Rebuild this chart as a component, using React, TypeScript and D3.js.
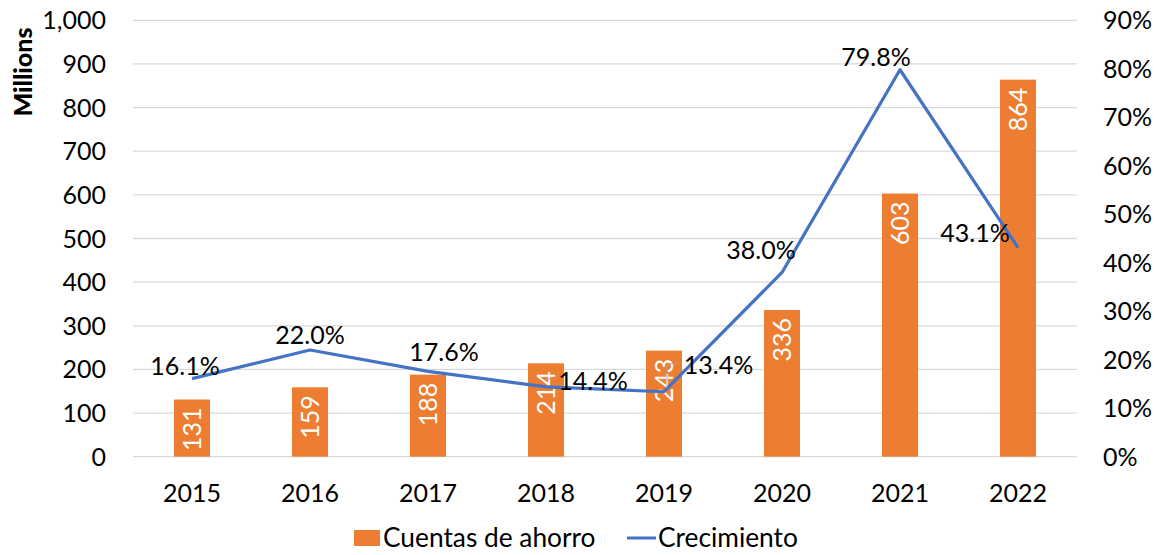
import React from "react";
import * as d3 from "d3";

const years = ["2015", "2016", "2017", "2018", "2019", "2020", "2021", "2022"];
const cuentas = [131, 159, 188, 214, 243, 336, 603, 864];
const crecimiento = [0.161, 0.22, 0.176, 0.144, 0.134, 0.38, 0.798, 0.431];
const leftTicks = [0, 100, 200, 300, 400, 500, 600, 700, 800, 900, 1000];
const rightTicks = [0, 0.1, 0.2, 0.3, 0.4, 0.5, 0.6, 0.7, 0.8, 0.9];
// label offsets (dx, dy baseline) relative to the line points
const labelOffsets: [number, number][] = [
  [-7, -3.6], [0, -6], [16, -10.7], [47, 3], [54.5, -17.7], [-21, -13], [-24, -3.7], [-43, -6],
];

const W = 1160, H = 555;
const FONT = "Lato, 'Noto Sans', sans-serif";
const ORANGE = "#ED7D31";
const BLUE = "#4472C4";

export default function App() {
  const x = d3.scaleBand<string>().domain(years).range([133, 1077]).paddingInner(0.695).paddingOuter(0.3475);
  const yL = d3.scaleLinear().domain([0, 1000]).range([456.7, 20.3]);
  const yR = d3.scaleLinear().domain([0, 0.9]).range([456.7, 20.3]);
  const cx = (y: string) => (x(y) as number) + x.bandwidth() / 2;
  const line = d3.line<number>().x((_, i) => cx(years[i])).y((d) => yR(d));
  const fmtL = d3.format(",");
  const fmtR = d3.format(".0%");
  const fmtP = d3.format(".1%");
  const fs = 25;

  return (
    <svg width={W} height={H} style={{ position: "absolute", left: 0, top: 0, background: "#fff" }} fontFamily={FONT}>
      {leftTicks.map((t) => (
        <line key={"g" + t} x1={133} x2={1077} y1={yL(t)} y2={yL(t)} stroke="#D9D9D9" strokeWidth={1.3} />
      ))}
      {leftTicks.map((t) => (
        <text key={"l" + t} x={106} y={yL(t)} dy="0.36em" textAnchor="end" fontSize={fs} fill="#000">
          {fmtL(t)}
        </text>
      ))}
      {rightTicks.map((t) => (
        <text key={"r" + t} x={1103} y={yR(t)} dy="0.36em" textAnchor="start" fontSize={fs} fill="#000">
          {fmtR(t)}
        </text>
      ))}
      <text transform={`translate(32,72) rotate(-90)`} textAnchor="middle" fontSize={25} fontWeight="900" fill="#000">
        Millions
      </text>
      {years.map((yr, i) => (
        <rect key={"b" + yr} x={x(yr)} y={yL(cuentas[i])} width={x.bandwidth()} height={yL(0) - yL(cuentas[i])} fill={ORANGE} />
      ))}
      {years.map((yr, i) => (
        <text
          key={"bl" + yr}
          transform={`translate(${cx(yr)},${yL(cuentas[i]) + 8}) rotate(-90)`}
          textAnchor="end"
          dy="0.36em"
          fontSize={fs}
          fill="#fff"
        >
          {cuentas[i]}
        </text>
      ))}
      {years.map((yr) => (
        <text key={"x" + yr} x={cx(yr)} y={502} textAnchor="middle" fontSize={fs} fill="#000">
          {yr}
        </text>
      ))}
      <path d={line(crecimiento) as string} fill="none" stroke={BLUE} strokeWidth={3.2} strokeLinejoin="round" />
      {/* leader lines */}
      <line x1={cx(years[3])} x2={cx(years[3]) + 10} y1={yR(crecimiento[3]) - 8} y2={yR(crecimiento[3]) - 8} stroke="#A6A6A6" strokeWidth={1} />
      <polyline
        points={`${cx(years[4]) + 3},${yR(crecimiento[4]) - 4} ${cx(years[4]) + 3},${yR(crecimiento[4]) - 28} ${cx(years[4]) + 14},${yR(crecimiento[4]) - 28}`}
        fill="none"
        stroke="#A6A6A6"
        strokeWidth={1}
      />
      {years.map((yr, i) => (
        <text
          key={"p" + yr}
          x={cx(yr) + labelOffsets[i][0]}
          y={yR(crecimiento[i]) + labelOffsets[i][1]}
          textAnchor="middle"
          fontSize={fs}
          fill="#000"
        >
          {fmtP(crecimiento[i])}
        </text>
      ))}
      <rect x={354} y={530} width={26} height={16} fill={ORANGE} />
      <text x={383} y={546.5} fontSize={26.3} fill="#000">Cuentas de ahorro</text>
      <line x1={627} x2={656} y1={538} y2={538} stroke={BLUE} strokeWidth={3} />
      <text x={658} y={546.5} fontSize={26.3} fill="#000">Crecimiento</text>
    </svg>
  );
}
